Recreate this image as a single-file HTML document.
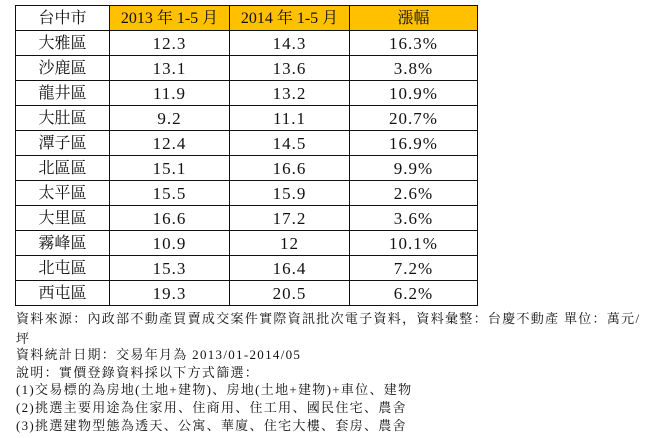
<!DOCTYPE html>
<html><head><meta charset="utf-8"><style>
body{margin:0;width:663px;height:438px;background:#fff;position:relative;overflow:hidden;font-family:"Liberation Serif","Noto Serif CJK SC","Noto Sans CJK TC",serif;color:#111}
table{position:absolute;left:15px;top:5px;border-collapse:collapse;table-layout:fixed}
td{border:1.5px solid #111;height:23.5px;padding:0;text-align:center;font-size:16px;line-height:23px}
tr{height:25px}
td.n{font-family:"Liberation Serif",serif;font-size:17px;letter-spacing:1px}
tr.h td{background:#ffc000}
tr.h td:first-child{background:#fff}
.t{position:absolute;left:16px;font-size:13px;letter-spacing:1.3px;line-height:18px;white-space:nowrap}
</style></head><body>
<table>
<col style="width:94px"><col style="width:120px"><col style="width:120px"><col style="width:128px">
<tr class="h"><td>台中市</td><td>2013 年 1-5 月</td><td>2014 年 1-5 月</td><td>漲幅</td></tr>
<tr><td>大雅區</td><td class="n">12.3</td><td class="n">14.3</td><td class="n">16.3%</td></tr>
<tr><td>沙鹿區</td><td class="n">13.1</td><td class="n">13.6</td><td class="n">3.8%</td></tr>
<tr><td>龍井區</td><td class="n">11.9</td><td class="n">13.2</td><td class="n">10.9%</td></tr>
<tr><td>大肚區</td><td class="n">9.2</td><td class="n">11.1</td><td class="n">20.7%</td></tr>
<tr><td>潭子區</td><td class="n">12.4</td><td class="n">14.5</td><td class="n">16.9%</td></tr>
<tr><td>北區區</td><td class="n">15.1</td><td class="n">16.6</td><td class="n">9.9%</td></tr>
<tr><td>太平區</td><td class="n">15.5</td><td class="n">15.9</td><td class="n">2.6%</td></tr>
<tr><td>大里區</td><td class="n">16.6</td><td class="n">17.2</td><td class="n">3.6%</td></tr>
<tr><td>霧峰區</td><td class="n">10.9</td><td class="n">12</td><td class="n">10.1%</td></tr>
<tr><td>北屯區</td><td class="n">15.3</td><td class="n">16.4</td><td class="n">7.2%</td></tr>
<tr><td>西屯區</td><td class="n">19.3</td><td class="n">20.5</td><td class="n">6.2%</td></tr>
</table>
<div class="t" style="top:310px">資料來源：內政部不動產買賣成交案件實際資訊批次電子資料，資料彙整：台慶不動產 單位：萬元/</div>
<div class="t" style="top:330px">坪</div>
<div class="t" style="top:346px">資料統計日期：交易年月為 2013/01-2014/05</div>
<div class="t" style="top:364px">說明：實價登錄資料採以下方式篩選：</div>
<div class="t" style="top:381px">(1)交易標的為房地(土地+建物)、房地(土地+建物)+車位、建物</div>
<div class="t" style="top:399px">(2)挑選主要用途為住家用、住商用、住工用、國民住宅、農舍</div>
<div class="t" style="top:417px">(3)挑選建物型態為透天、公寓、華廈、住宅大樓、套房、農舍</div>
</body></html>
